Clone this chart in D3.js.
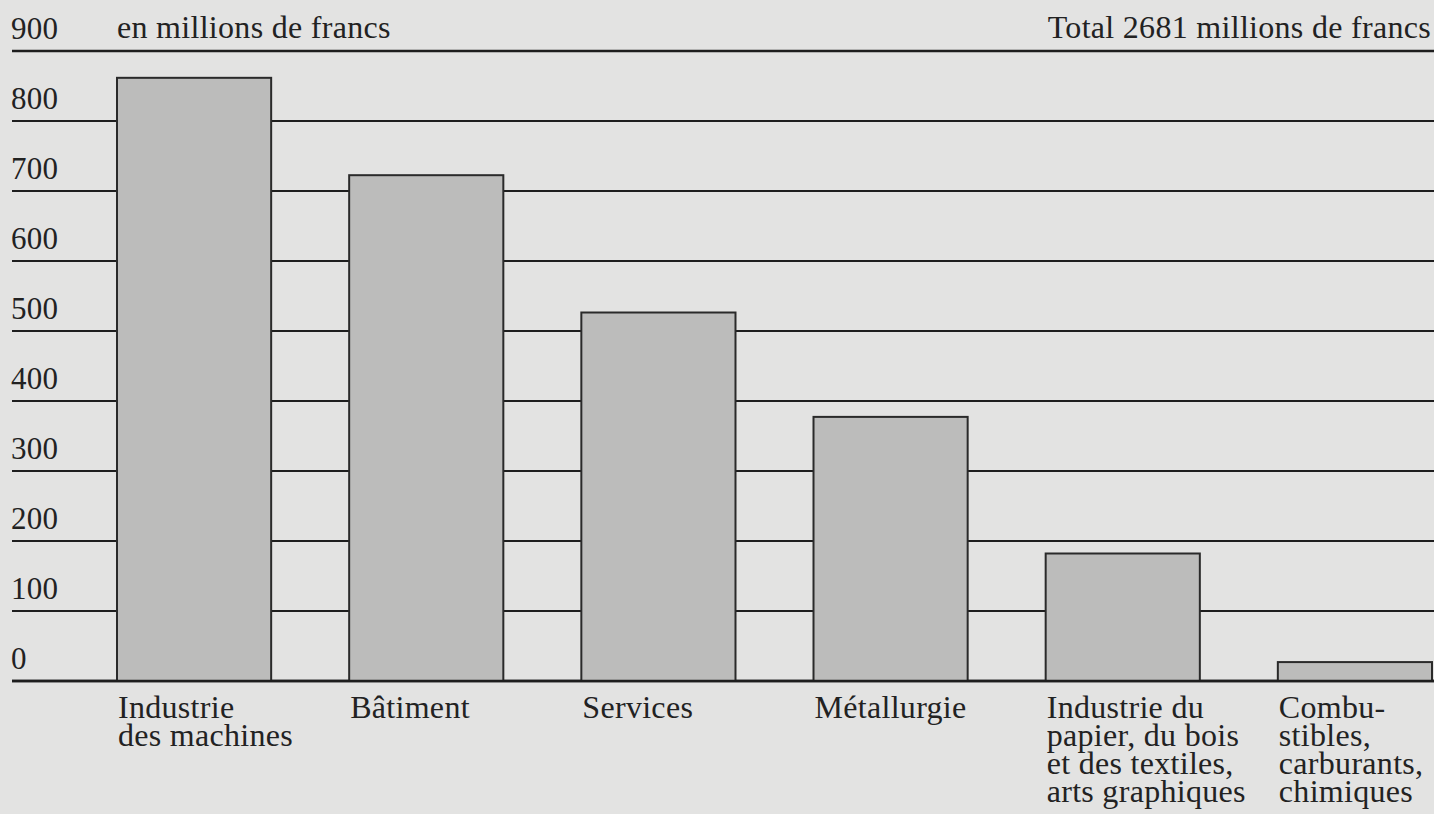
<!DOCTYPE html>
<html>
<head>
<meta charset="utf-8">
<script src="https://cdn.jsdelivr.net/npm/d3@7"></script>
<style>
  html, body { margin: 0; padding: 0; background: #e3e3e2; }
  svg { display: block; }
  text { font-family: "Liberation Serif", "Times New Roman", serif; fill: #222; letter-spacing: 0.3px; }
</style>
</head>
<body>
<svg id="chart" width="1434" height="814"></svg>
<script>
const categories = [
  ["Industrie", "des machines"],
  ["Bâtiment"],
  ["Services"],
  ["Métallurgie"],
  ["Industrie du", "papier, du bois", "et des textiles,", "arts graphiques"],
  ["Combu-", "stibles,", "carburants,", "chimiques"]
];
const values = [861, 722, 526, 377, 182, 27];
const tickValues = [0, 100, 200, 300, 400, 500, 600, 700, 800, 900];
const unitLabel = "en millions de francs";
const totalLabel = "Total 2681 millions de francs";

const svg = d3.select("#chart");
const W = 1434;

const x = d3.scaleBand()
  .domain(d3.range(categories.length))
  .range([117, 1432])
  .paddingInner(0.336)
  .paddingOuter(0);

const y = d3.scaleLinear().domain([0, 900]).range([681, 50.5]);

const fontSize = 32;

// grid lines
const grid = svg.append("g");
grid.selectAll("line")
  .data(tickValues)
  .join("line")
  .attr("x1", 12)
  .attr("x2", W)
  .attr("y1", d => Math.round(y(d)))
  .attr("y2", d => Math.round(y(d)))
  .attr("stroke", "#1e1e1e")
  .attr("stroke-width", d => d === 0 || d === 900 ? 2.4 : 2);

// tick labels
svg.append("g").selectAll("text")
  .data(tickValues)
  .join("text")
  .attr("x", 11)
  .attr("y", d => y(d) - 12)
  .attr("font-size", fontSize - 1)
  .text(d => d);

// header texts
svg.append("text")
  .attr("x", x(0))
  .attr("y", y(900) - 13)
  .attr("font-size", fontSize)
  .text(unitLabel);

svg.append("text")
  .attr("x", 1431)
  .attr("y", y(900) - 13)
  .attr("text-anchor", "end")
  .attr("font-size", fontSize)
  .text(totalLabel);

// bars
svg.append("g").selectAll("rect")
  .data(values)
  .join("rect")
  .attr("x", (d, i) => x(i))
  .attr("y", d => y(d))
  .attr("width", x.bandwidth())
  .attr("height", d => y(0) - y(d))
  .attr("fill", "#bcbcbb")
  .attr("stroke", "#2a2a2a")
  .attr("stroke-width", 2);

// baseline on top
svg.append("line")
  .attr("x1", 12).attr("x2", W)
  .attr("y1", Math.round(y(0))).attr("y2", Math.round(y(0)))
  .attr("stroke", "#1e1e1e").attr("stroke-width", 2.4);

// category labels
const lab = svg.append("g").selectAll("text")
  .data(categories)
  .join("text")
  .attr("x", (d, i) => x(i) + 1)
  .attr("y", 718)
  .attr("font-size", fontSize);
lab.selectAll("tspan")
  .data(d => d)
  .join("tspan")
  .attr("x", function() { return d3.select(this.parentNode).attr("x"); })
  .attr("dy", (d, i) => i === 0 ? 0 : 28)
  .text(d => d);
</script>
</body>
</html>
